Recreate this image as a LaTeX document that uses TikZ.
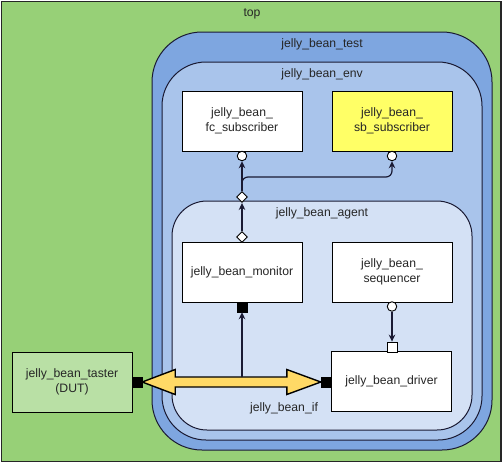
\documentclass[tikz,border=0pt]{standalone}
\usepackage{fontspec}
\setmainfont{Liberation Sans}
\usetikzlibrary{arrows.meta,shapes.geometric,calc}
\definecolor{topgreen}{HTML}{97D077}
\definecolor{testblue}{HTML}{7EA6E0}
\definecolor{envblue}{HTML}{A9C4EB}
\definecolor{agentblue}{HTML}{D4E1F5}
\definecolor{dutgreen}{HTML}{B9E0A5}
\definecolor{sbyellow}{HTML}{FFFF66}
\definecolor{ifyellow}{HTML}{FFD966}
\definecolor{linedark}{HTML}{1A1A33}
\tikzset{
  lbl/.style={font=\fontsize{12.2}{14}\selectfont, text=black!85},
  cont/.style={draw=linedark, line width=1pt},
  comp/.style={draw=black, line width=0.9pt, fill=white, minimum width=120, minimum height=60, inner sep=2pt, align=center, font=\fontsize{12.2}{14.5}\selectfont, text=black!85},
  pcirc/.style={circle, draw=black, fill=white, line width=0.9pt, minimum size=9.5, inner sep=0pt},
  pdiam/.style={diamond, draw=black, fill=white, line width=0.9pt, minimum size=11, inner sep=0pt},
  psq/.style={rectangle, draw=black, fill=black, minimum size=10, inner sep=0pt},
  wsq/.style={rectangle, draw=black, fill=white, line width=0.8pt, minimum size=10, inner sep=0pt},
  conn/.style={draw=linedark, line width=1.2pt, -{Stealth[length=7pt,width=6.5pt]}},
}
\begin{document}
\begin{tikzpicture}[x=1pt,y=-1pt]
\useasboundingbox (0,0) rectangle (503,466);
\fill[white] (0,0) rectangle (503,466);
\draw[fill=topgreen, draw=black!85, line width=1.5pt] (1.5,1.5) rectangle (501,461.5);
\node[lbl] (toplbl) at (252,14) {top};
% containers
\node[cont, fill=testblue, rounded corners=50, minimum width=340, minimum height=418, inner sep=0pt] (test) at (322,241) {};
\node[lbl] (testlbl) at (322,44) {jelly\_bean\_test};
\node[cont, fill=envblue, rounded corners=44, minimum width=320, minimum height=378, inner sep=0pt] (env) at (322,251) {};
\node[lbl] (envlbl) at (322,74) {jelly\_bean\_env};
\node[cont, fill=agentblue, rounded corners=35, minimum width=300, minimum height=229, inner sep=0pt] (agent) at (322,315.5) {};
\node[lbl] (agentlbl) at (322,213) {jelly\_bean\_agent};
% components
\node[comp] (fc) at (242,121) {jelly\_bean\_\\fc\_subscriber};
\node[comp, fill=sbyellow] (sb) at (392,121) {jelly\_bean\_\\sb\_subscriber};
\node[comp] (mon) at (242,272) {jelly\_bean\_monitor};
\node[comp] (seq) at (392,272) {jelly\_bean\_\\sequencer};
\node[comp] (drv) at (391.5,381.5) {jelly\_bean\_driver};
\node[comp, fill=dutgreen] (dut) at (72,382) {jelly\_bean\_taster\\(DUT)};
% ports
\node[pcirc] (fcp) at (242,156) {};
\node[pcirc] (sbp) at (392,156) {};
\node[pdiam] (d1) at (242,197) {};
\node[pdiam] (d2) at (242,237) {};
\node[psq] (monp) at (242,307) {};
\node[pcirc] (seqp) at (392,306.5) {};
\node[wsq] (drvp) at (392,347) {};
\node[psq] (dutp) at (137,382) {};
\node[psq] (drvl) at (326,382) {};
% interface double arrow
\draw[fill=ifyellow, draw=black, line width=1.4pt, line join=miter]
  (dutp.east) -- ++(33,-12.5) -- ++(0,7.5) -- ($(drvl.west)+(-34,-5)$) -- ++(0,-7.5)
  -- (drvl.west) -- ++(-34,12.5) -- ++(0,-7.5) -- ($(dutp.east)+(33,5)$) -- ++(0,7.5) -- cycle;
\node[lbl] (iflbl) at (284,408) {jelly\_bean\_if};
\coordinate (ifmid) at (242,377);
% connectors
\draw[conn] (d2.north) -- (d1.south);
\draw[conn] (d1.north) -- (fcp.south);
\coordinate (br) at (300,177);
\draw[conn, rounded corners=6] (d1.north) -- (d1.north |- br) -- (sbp.south |- br) -- (sbp.south);
\draw[conn] (ifmid) -- (monp.south);
\draw[conn] (seqp.south) -- (drvp.north);
\end{tikzpicture}
\end{document}
